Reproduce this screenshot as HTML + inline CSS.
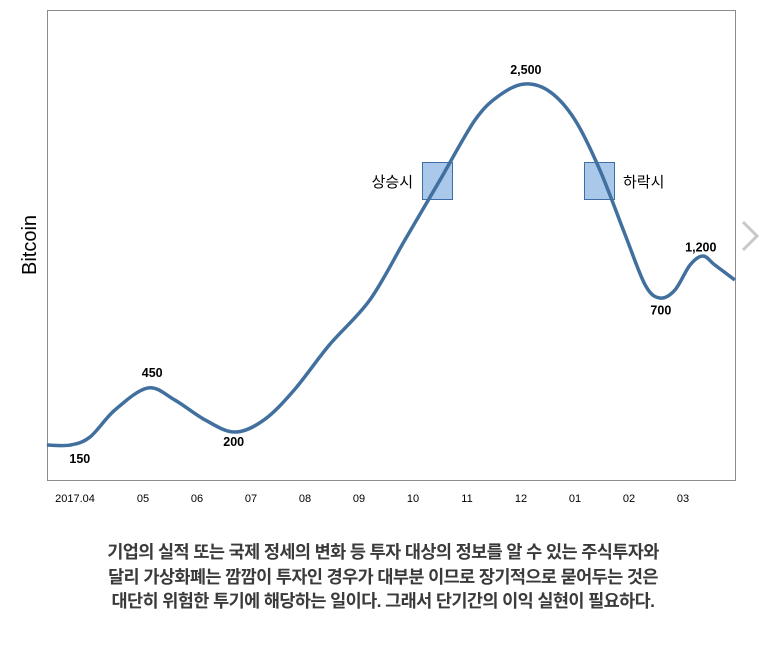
<!DOCTYPE html>
<html><head><meta charset="utf-8"><style>
body{margin:0;background:#fff;width:760px;height:650px;overflow:hidden;font-family:"Liberation Sans","Noto Sans CJK KR",sans-serif}
svg{position:absolute;left:0;top:0}
#cap{position:absolute;left:0;top:540px;width:766px;text-align:center;font-weight:bold;font-size:17.5px;line-height:24.5px;color:#3a3a3a;letter-spacing:-0.6px;font-family:"Liberation Sans","Noto Sans CJK KR",sans-serif}
</style></head><body>
<svg width="760" height="650" id="svg">
<rect x="47.5" y="10.5" width="688" height="470" fill="none" stroke="#8c8c8c"/>
<text x="36" y="245" transform="rotate(-90 36 245)" text-anchor="middle" font-size="20" fill="#000">Bitcoin</text>
<g id="ticks"></g>
<rect x="422.5" y="162.5" width="30" height="37" fill="#a9c8ea" stroke="#3f6ea5"/>
<rect x="584.5" y="162.5" width="30" height="37" fill="#a9c8ea" stroke="#3f6ea5"/>
<text x="413" y="187" text-anchor="end" font-size="15">상승시</text>
<text x="623" y="187" font-size="15">하락시</text>
<path id="line" fill="none" stroke="#41709f" stroke-width="3.5"/>
<g id="anns"></g>
<polyline points="743,222 757,236 743,250" fill="none" stroke="#c8c8c8" stroke-width="3"/>
</svg>
<div id="cap">기업의 실적 또는 국제 정세의 변화 등 투자 대상의 정보를 알 수 있는 주식투자와<br>달리 가상화폐는 깜깜이 투자인 경우가 대부분 이므로 장기적으로 묻어두는 것은<br>대단히 위험한 투기에 해당하는 일이다. 그래서 단기간의 이익 실현이 필요하다.</div>
<script>
const tickLabels=["2017.04","05","06","07","08","09","10","11","12","01","02","03"];
const months=[-0.78,-0.35,0.02,0.48,1.09,1.59,2.15,2.70,3.24,3.80,4.45,5.20,5.85,6.50,7.15,7.61,8.07,8.54,9.00,9.46,9.93,10.30,10.57,10.85,11.13,11.37,11.59,11.96];
const values=[150,150,203,379,523,444,314,235,314,510,804,1098,1490,1882,2275,2438,2510,2458,2275,1948,1523,1196,1111,1163,1327,1386,1327,1229];
const annLabels=["150","450","200","2,500","700","1,200"];
const annMonths=[-0.17,1.17,2.68,8.09,10.59,11.33];
const annValues=[60,620,170,2600,1030,1440];
const X=m=>89+54*m, Y=v=>468-v*0.153;
const ns="http://www.w3.org/2000/svg";
const tg=document.getElementById('ticks');
tickLabels.forEach((t,i)=>{const e=document.createElementNS(ns,'text');
e.setAttribute('x',i==0?75:X(i));e.setAttribute('y',502);e.setAttribute('text-anchor','middle');e.setAttribute('font-size','11');e.textContent=t;


tg.appendChild(e);});
const p=months.map((m,i)=>[X(m),Y(values[i])]);
let d=`M${p[0][0]},${p[0][1]}`;
for(let i=0;i<p.length-1;i++){const a=p[Math.max(0,i-1)],b=p[i],c=p[i+1],e=p[Math.min(p.length-1,i+2)];
d+=` C${b[0]+(c[0]-a[0])/6},${b[1]+(c[1]-a[1])/6} ${c[0]-(e[0]-b[0])/6},${c[1]-(e[1]-b[1])/6} ${c[0]},${c[1]}`;}
document.getElementById('line').setAttribute('d',d);
const ag=document.getElementById('anns');
annLabels.forEach((t,i)=>{const e=document.createElementNS(ns,'text');
e.setAttribute('x',X(annMonths[i]));e.setAttribute('y',Y(annValues[i])+4);e.setAttribute('text-anchor','middle');e.setAttribute('font-size','12.5');e.setAttribute('font-weight','bold');e.textContent=t;


ag.appendChild(e);});
</script>
</body></html>
